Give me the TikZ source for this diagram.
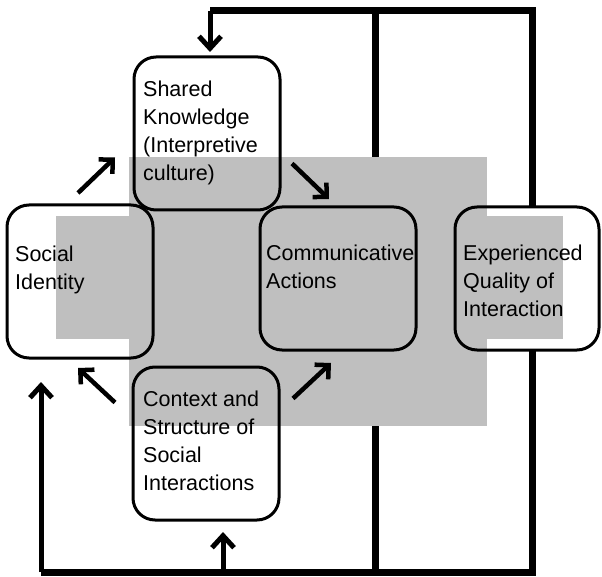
\documentclass[tikz,border=0pt]{standalone}
\usepackage{fontspec}
\setmainfont{Liberation Sans}
\usetikzlibrary{arrows.meta,backgrounds}
\definecolor{greyfill}{RGB}{191,191,191}
\begin{document}
\begin{tikzpicture}[x=1pt,y=-1pt,
    panel/.style={fill=white,rounded corners=22pt,inner sep=0pt,outer sep=0pt,anchor=north west},
    boxline/.style={line width=3pt,rounded corners=22pt},
    txt/.style={align=left,anchor=north west,inner sep=0pt,font=\fontsize{21.5}{28}\selectfont},
    bus/.style={line width=7pt,line join=miter},
    feed/.style={line width=5pt,-{Straight Barb[length=12pt,width=22pt]}},
    link/.style={line width=4.5pt,-{Straight Barb[length=10pt,width=20pt]}}]
    \useasboundingbox (0,0) rectangle (602,577);

    \node[panel,minimum width=146pt,minimum height=153pt] (sk) at (134,57) {};
    \node[panel,minimum width=146pt,minimum height=153pt] (si) at (7,205) {};
    \node[panel,minimum width=156pt,minimum height=143pt] (ca) at (260,207) {};
    \node[panel,minimum width=144pt,minimum height=143pt] (eq) at (455,207) {};
    \node[panel,minimum width=146pt,minimum height=153pt] (cs) at (133,367) {};

    \fill[greyfill] (129,157) rectangle (487,426);
    \fill[greyfill] (56,216) rectangle (563,339);

    \foreach \b in {sk,si,ca,eq,cs}
        \draw[boxline] (\b.north west) rectangle (\b.south east);

    \node[txt] (sktxt) at ([shift={(9pt,-24pt)}]sk.north west) {Shared\\Knowledge\\(Interpretive\\culture)};
    \node[txt] (sitxt) at ([shift={(8pt,-41pt)}]si.north west) {Social\\Identity};
    \node[txt] (catxt) at ([shift={(6pt,-38pt)}]ca.north west) {Communicative\\Actions};
    \node[txt] (eqtxt) at ([shift={(8pt,-38pt)}]eq.north west) {Experienced\\Quality of\\Interaction};
    \node[txt] (cstxt) at ([shift={(10pt,-24pt)}]cs.north west) {Context and\\Structure of\\Social\\Interactions};

    \draw[link] ([shift={(-2pt,12pt)}]si.north) -- ([shift={(-19pt,-24pt)}]sk.west);
    \draw[link] ([shift={(12pt,-30pt)}]sk.east) -- ([shift={(-9pt,8pt)}]ca.north);
    \draw[link] ([shift={(-18pt,41pt)}]cs.west) -- ([shift={(-2pt,-10pt)}]si.south);
    \draw[link] ([shift={(14pt,45pt)}]cs.east) -- ([shift={(-7pt,-13pt)}]ca.south);

    \coordinate (topR) at (532,11);
    \coordinate (topM) at (375,11);
    \coordinate (topL) at (210,11);
    \coordinate (botR) at (532,572);
    \coordinate (botM) at (375,572);
    \coordinate (botC) at (223,572);
    \coordinate (botL) at (41,572);

    \begin{pgfonlayer}{background}
        \draw[bus] (eq.north -| topR) -- (topR) -- (topL);
        \draw[bus] (eq.south -| botR) -- (botR) -- (botL);
        \draw[bus] (topM) -- (botM);
        \draw[feed] (topL) -- ([yshift=5pt]sk.north -| topL);
        \draw[feed] (botL) -- ([yshift=-24pt]si.south -| botL);
        \draw[feed] (botC) -- ([yshift=-12pt]cs.south -| botC);
    \end{pgfonlayer}
\end{tikzpicture}
\end{document}
